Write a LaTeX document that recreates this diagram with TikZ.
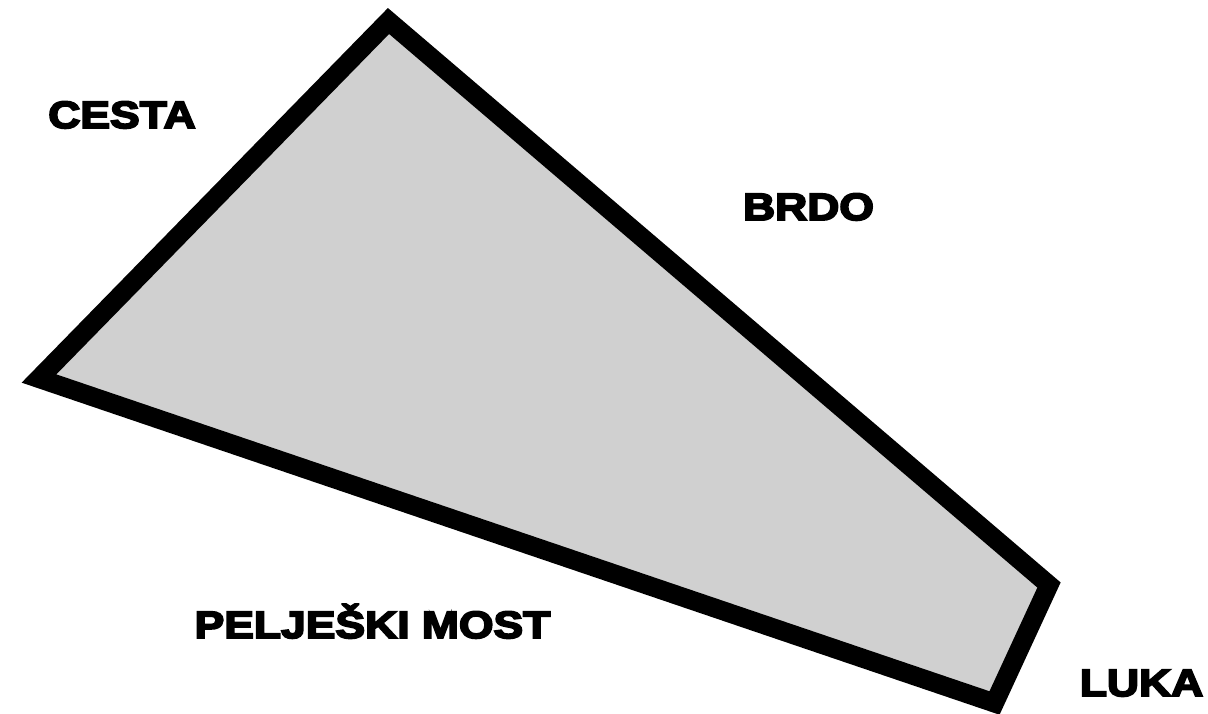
\documentclass[tikz,border=0pt]{standalone}
\usepackage{fontspec}
\newfontface\labfont{Liberation Sans Bold}[FakeBold=5,FakeStretch=1.17]
\definecolor{fillgray}{RGB}{208,208,208}
\begin{document}
\begin{tikzpicture}[x=1pt,y=-1pt,
  plot/.style={draw=black,fill=fillgray,line width=19pt,line join=miter,miter limit=20},
  lab/.style={anchor=base,inner sep=0pt,font=\labfont\fontsize{38pt}{42pt}\selectfont}]
\useasboundingbox (0,0) rectangle (1208,713);
\coordinate (top) at (388.5,21);
\coordinate (left) at (39,378.5);
\coordinate (right) at (1049,585);
\coordinate (bottom) at (994.5,703);
\draw[plot] (top) -- (right) -- (bottom) -- (left) -- cycle;
\node[lab] (cesta) at (122,128) {CESTA};
\node[lab] (brdo) at (808.5,220) {BRDO};
\node[lab] (most) at (372.5,638) {PELJEŠKI MOST};
\node[lab] (luka) at (1141.5,696) {LUKA};
\end{tikzpicture}
\end{document}
